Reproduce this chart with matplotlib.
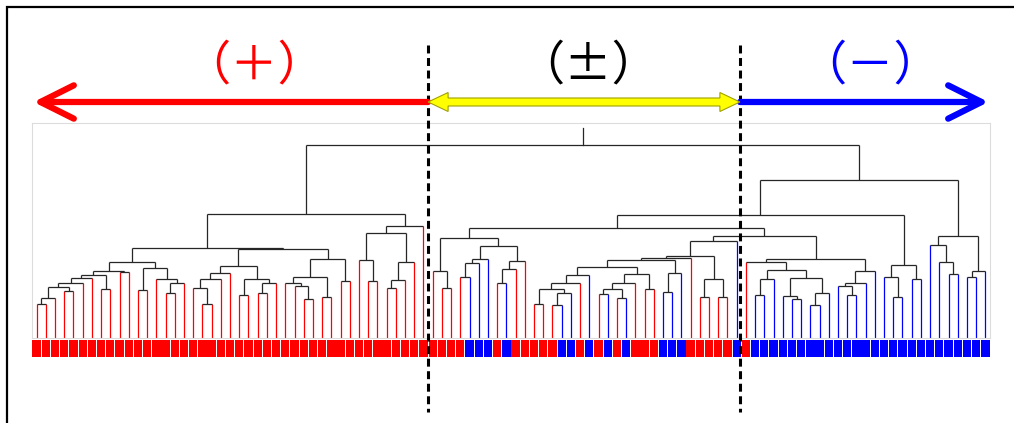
import matplotlib
matplotlib.use("Agg")
import matplotlib.pyplot as plt
from matplotlib.patches import Polygon, Rectangle

# ---- data -------------------------------------------------------------
# class of each leaf, in display order (R = positive / red, B = negative / blue)
leaf_class = list("R" * 43 + "RRRRBBBRBRRRRRBBRBRBRBRRRBBBRRRRRBR" + "B" * 26)

group_labels = ["（＋）", "（±）", "（－）"]
group_colors = ["#ff0000", "#000000", "#0000ff"]
group_cuts = [42.5, 76.35]          # separators between groups, leaf units
label_x = [23.6, 59.9, 90.5]        # label centres, leaf units

# dendrogram: node = (left, right, merge height); ints are leaf positions
p_a = (((0, 1, 34.0), 2, 40.3), (3, 4, 47.0), 50.7)
p_b = ((((p_a, 5, 55.3), 6, 59.7), (7, 8, 48.7), 63.0), (9, 10, 66.0), 67.3)
p_c = ((11, 12, 48.0), (13, ((14, 15, 44.7), 16, 54.7), 59.0), 69.7)
p_d = ((((17, (18, 19, 34.0), 49.7), 20, 58.7), 21, 65.3),
       ((22, 23, 43.0), ((24, 25, 44.7), 26, 55.3), 58.7), 72.3)
p_e = (((27, (28, (29, 30, 38.7), 52.0), 55.3), (31, 32, 41.3), 60.7),
       (33, 34, 57.3), 78.7)
p_f = ((35, (36, 37, 57.0), 78.0), (((38, 39, 50.0), 40, 58.0), 41, 76.0), 105.0)
plus = (((p_b, p_c, 76.3), (p_d, p_e, 88.7), 90.3), (p_f, 42, 112.0), 124.0)

m_1 = ((43, (44, 45, 49.7), 67.3),
       ((((46, 47, 61.3), 48, 74.7), 49, 78.7),
        (((50, 51, 55.3), 52, 68.7), 53, 77.3), 92.3), 99.7)
m_a = ((((54, 55, 34.0), ((56, 57, 33.0), 58, 44.7), 49.0), 59, 54.7), 60, 63.0)
m_b = ((((61, 62, 43.7), (63, 64, 40.3), 48.7), 65, 55.3), (66, 67, 48.7), 64.3)
m_c = (((((m_a, m_b, 71.0), ((68, 69, 46.3), 70, 65.3), 77.7), 71, 80.0),
        ((72, 73, 41.3), (74, 75, 41.3), 58.7), 82.0), 76, 96.7)
m_d = ((77, (((78, 79, 43.0), 80, 58.7),
             ((81, (82, 83, 38.7), 42.0), ((84, 85, 33.0), 86, 44.7), 59.7), 68.0), 76.3),
       (((87, (88, 89, 43.0), 52.0), 90, 55.3), 91, 67.0), 78.7)
mid = (m_1, (m_c, m_d, 102.0), 109.7)
minus_a = ((92, (93, 94, 41.3), 60.7), (95, 96, 59.0), 73.0)
minus_b = ((97, (98, (99, 100, 64.0), 76.3), 93.0), ((101, 102, 60.7), 103, 67.3), 102.0)
tree = (plus, ((mid, minus_a, 123.0), minus_b, 158.0), 193.0)

# ---- layout -----------------------------------------------------------
plt.rcParams['font.family'] = ['Noto Sans CJK JP', 'DejaVu Sans']
W, H = 1014, 423
x0, x1 = 32, 990
y_top, y_base = 123, 338
n = len(leaf_class)
LINK = "#262626"
STEM = {"R": "#ff0000", "B": "#0000ff"}

fig = plt.figure(figsize=(W / 100, H / 100), dpi=100)
fig.patch.set_facecolor("white")

ax = fig.add_axes([x0 / W, 1 - y_base / H, (x1 - x0) / W, (y_base - y_top) / H])
ax.set_xlim(-0.5, n - 0.5)
ax.set_ylim(0, 215)
ax.set_xticks([])
ax.set_yticks([])
for s in ax.spines.values():
    s.set_color("#dcdcdc")
    s.set_linewidth(0.8)


def draw(node):
    if isinstance(node, int):
        return node, 0.0, STEM[leaf_class[node]]
    left, right, h = node
    xs = []
    for child in (left, right):
        x, hc, col = draw(child)
        ax.plot([x, x], [hc, h], color=col, lw=0.9, solid_capstyle="butt")
        xs.append(x)
    ax.plot(xs, [h, h], color=LINK, lw=0.9, solid_capstyle="butt")
    return sum(xs) / 2, h, LINK


xr, hr, _ = draw(tree)
ax.plot([xr, xr], [hr, 210], color=LINK, lw=0.9)

# colour strip under the leaves
axb = fig.add_axes([x0 / W, 1 - 357 / H, (x1 - x0) / W, 17 / H])
axb.bar(range(n), 1, width=0.9, color=[STEM[c] for c in leaf_class])
axb.set_xlim(-0.5, n - 0.5)
axb.set_ylim(0, 1)
axb.axis("off")

# overlay: x in leaf units, y in pixel rows
ov = fig.add_axes([0, 0, 1, 1], facecolor="none")
px = (x1 - x0) / n
ov.set_xlim(-0.5 - x0 / px, n - 0.5 + (W - x1) / px)
ov.set_ylim(H, 0)
ov.axis("off")

for c in group_cuts:
    ov.plot([c, c], [45, 412], color="black", lw=2.2, linestyle=(0, (2.6, 1.5)), zorder=1)

yc = 102
a, b = group_cuts
ov.annotate("", xy=(-0.5 + 1.5 / px, yc), xytext=(a, yc),
            arrowprops=dict(arrowstyle="->,head_length=0.6,head_width=0.3", lw=4.5,
                            color=group_colors[0], shrinkA=0, shrinkB=0,
                            mutation_scale=40, capstyle="round", joinstyle="round"),
            zorder=3)
ov.annotate("", xy=(n - 0.5 - 1.5 / px, yc), xytext=(b, yc),
            arrowprops=dict(arrowstyle="->,head_length=0.6,head_width=0.3", lw=4.5,
                            color=group_colors[2], shrinkA=0, shrinkB=0,
                            mutation_scale=40, capstyle="round", joinstyle="round"),
            zorder=3)
hl, hw, tw = 20 / px, 9.5, 4.0
pts = [(a, yc), (a + hl, yc - hw), (a + hl, yc - tw), (b - hl, yc - tw), (b - hl, yc - hw),
       (b, yc), (b - hl, yc + hw), (b - hl, yc + tw), (a + hl, yc + tw), (a + hl, yc + hw)]
ov.add_patch(Polygon(pts, closed=True, fc="#ffff00", ec="#a0a000", lw=0.8, zorder=3))

for lx, lab, col in zip(label_x, group_labels, group_colors):
    ov.text(lx, 66, lab, color=col, fontsize=34, ha="center", va="center")

fig.add_artist(Rectangle((7 / W, -0.05), 1.1, (H - 7) / H + 0.05,
                         transform=fig.transFigure, fill=False, ec="black", lw=1.6))

fig.savefig("out.png", dpi=100)
